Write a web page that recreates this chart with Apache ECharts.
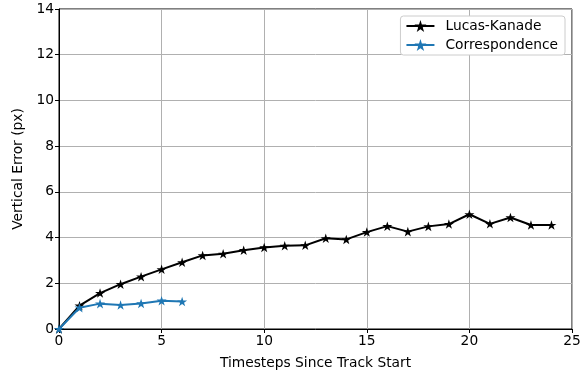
<!DOCTYPE html>
<html>
<head>
<meta charset="utf-8">
<script src="https://cdn.jsdelivr.net/npm/echarts@6/dist/echarts.min.js"></script>
<style>
  html, body { margin: 0; padding: 0; background: #fff; }
  #chart { width: 584px; height: 377px; }
</style>
</head>
<body>
<div id="chart"></div>
<script>
// Timesteps since the track started
const timesteps = [0, 1, 2, 3, 4, 5, 6, 7, 8, 9, 10, 11, 12, 13, 14, 15, 16, 17, 18, 19, 20, 21, 22, 23, 24];
// Mean vertical error (px) per tracker
const lucasKanade = [0, 1.02, 1.57, 1.96, 2.29, 2.61, 2.92, 3.22, 3.29, 3.45, 3.57, 3.64, 3.66, 3.97, 3.92, 4.24, 4.50, 4.26, 4.49, 4.59, 5.02, 4.60, 4.88, 4.55, 4.55];
const correspondence = [0, 0.93, 1.11, 1.05, 1.12, 1.24, 1.20];
const xTicks = { min: 0, max: 25, step: 5 };
const yTicks = { min: 0, max: 14, step: 2 };

const FONT = 'DejaVu Sans';
const FS = 13.8;
const STAR = 'path://M100,0 L122.45,69.1 L195.11,69.1 L136.33,111.8 L158.78,180.9 L100,138.2 L41.22,180.9 L63.67,111.8 L4.89,69.1 L77.55,69.1 Z';

function pairs(xs, ys) {
  return ys.map((v, i) => [xs[i], v]);
}

const axisCommon = {
  axisLine: { show: true, onZero: false, lineStyle: { color: '#000', width: 1 } },
  axisTick: { show: true, inside: false, length: 4, lineStyle: { color: '#000', width: 1 } },
  axisLabel: { color: '#000', fontFamily: FONT, fontSize: FS, margin: 5 },
  splitLine: { show: true, lineStyle: { color: '#b0b0b0', width: 1 } },
  nameTextStyle: { color: '#000', fontFamily: FONT, fontSize: FS }
};

const chart = echarts.init(document.getElementById('chart'), null, { renderer: 'canvas' });
chart.setOption({
  animation: false,
  backgroundColor: '#fff',
  grid: {
    left: 59, right: 12, top: 9, bottom: 48,
    show: true, borderColor: '#000', borderWidth: 1, backgroundColor: 'transparent'
  },
  legend: {
    right: 19, top: 16,
    orient: 'vertical',
    backgroundColor: '#fff',
    borderColor: '#cccccc',
    borderWidth: 1,
    borderRadius: 3,
    padding: [3, 7, 3, 5],
    itemGap: 5,
    itemWidth: 28,
    itemHeight: 15,
    textStyle: { color: '#000', fontFamily: FONT, fontSize: FS, padding: [0, 0, 0, 6] },
    data: ['Lucas-Kanade', 'Correspondence']
  },
  xAxis: Object.assign({}, axisCommon, {
    type: 'value',
    min: xTicks.min, max: xTicks.max, interval: xTicks.step,
    name: 'Timesteps Since Track Start',
    nameLocation: 'middle',
    nameGap: 27
  }),
  yAxis: Object.assign({}, axisCommon, {
    type: 'value',
    min: yTicks.min, max: yTicks.max, interval: yTicks.step,
    name: 'Vertical Error (px)',
    nameLocation: 'middle',
    nameGap: 30
  }),
  series: [
    {
      name: 'Lucas-Kanade',
      type: 'line',
      data: pairs(timesteps, lucasKanade),
      symbol: STAR,
      symbolKeepAspect: true,
      symbolSize: 10,
      showAllSymbol: true,
      color: '#000000',
      lineStyle: { color: '#000000', width: 2 },
      itemStyle: { color: '#000000' },
      z: 3
    },
    {
      name: 'Correspondence',
      type: 'line',
      data: pairs(timesteps, correspondence),
      symbol: STAR,
      symbolKeepAspect: true,
      symbolSize: 10,
      showAllSymbol: true,
      color: '#1f77b4',
      lineStyle: { color: '#1f77b4', width: 2 },
      itemStyle: { color: '#1f77b4' },
      z: 4
    }
  ]
});
</script>
</body>
</html>
